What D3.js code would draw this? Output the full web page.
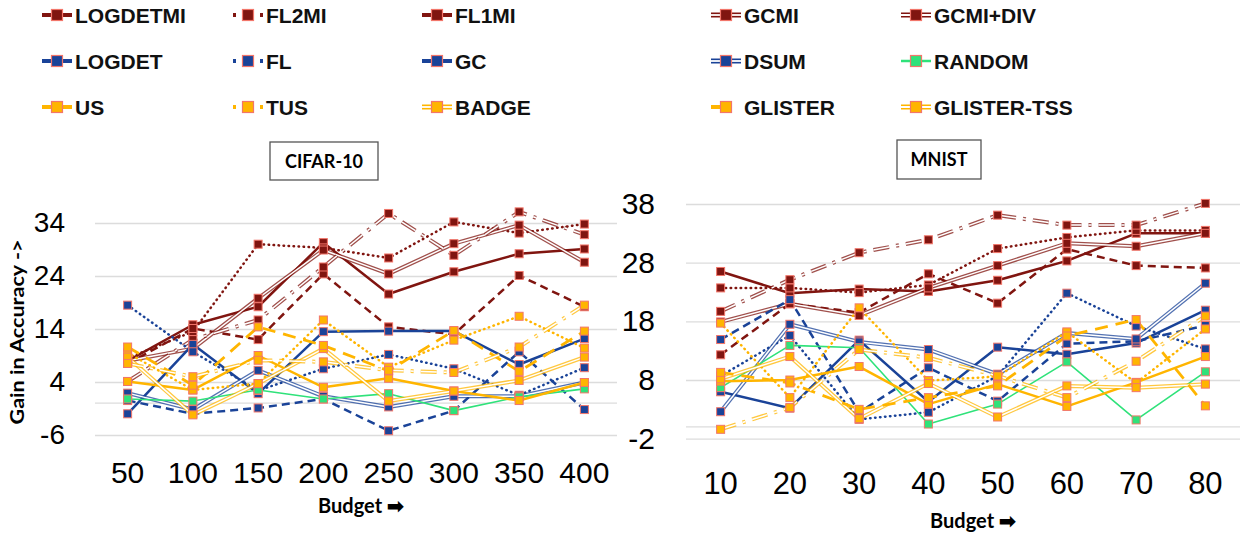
<html>
<head>
<meta charset="utf-8">
<script src="https://d3js.org/d3.v7.min.js"></script>
<style>
body { margin: 0; background: #fff; }
</style>
</head>
<body>
<svg id="page"></svg>
<script>

// data
var seriesNames = ["LOGDETMI", "FL2MI", "FL1MI", "GCMI", "GCMI+DIV",
                   "LOGDET", "FL", "GC", "DSUM", "RANDOM",
                   "US", "TUS", "BADGE", "GLISTER", "GLISTER-TSS"];

var cifarBudgets = ["50", "100", "150", "200", "250", "300", "350", "400"];
var mnistBudgets = ["10", "20", "30", "40", "50", "60", "70", "80"];
var cifarTicks = [-6, 4, 14, 24, 34];
var mnistTicks = [-2, 8, 18, 28, 38];

// one row per series, same order as seriesNames
var cifarValues = [
	[8, 14.8, 18.2, 30.3, 20.6, 24.8, 28.2, 29.1],
	[8.5, 13.5, 30, 29.3, 27.4, 34.2, 32.1, 33.8],
	[7.5, 14.1, 12.0, 24.4, 14.4, 13.0, 24.1, 18.2],
	[8, 10.3, 19.8, 28.9, 24.4, 30.1, 33.6, 26.6],
	[4.1, 12, 15.7, 25.7, 35.8, 27.9, 36.1, 31.8],
	[-2, 11.1, 1.8, 13.5, 13.6, 13.6, 7.3, 12.2],
	[18.5, 9.7, 2.4, 6.5, 9.2, 6.5, 1.5, 6.7],
	[0.5, -2.0, -0.9, 0.8, -5.2, -1.4, 9.7, -1.2],
	[1.9, -1.2, 6.2, 1.3, -0.7, 1.3, 1.3, 3.9],
	[0.8, 0.4, 2.5, 0.8, 1.8, -1.4, 1.2, 2.7],
	[4.1, 2.5, 9.0, 3.0, 4.7, 2.3, 0.5, 3.9],
	[9.5, 2.5, 3.7, 15.7, 6.8, 11.9, 16.4, 10.4],
	[8.7, -2.2, 3.7, 10.3, 0.4, 2.3, 4.3, 8.7],
	[10.6, 3.4, 14.4, 10.9, 6.1, 13.7, 6.0, 13.6],
	[7.5, 5, 8.1, 7.8, 6.2, 5.8, 10.6, 18.5]
];

var mnistValues = [
	[26.5, 22.8, 23.5, 23.1, 25.0, 28.3, 33.0, 33.0],
	[23.7, 23.7, 22.9, 24.2, 30.4, 32.3, 33.5, 33.5],
	[12.3, 21.0, 19.5, 26.1, 21.1, 30.3, 27.5, 27.1],
	[17.9, 21.0, 19.0, 23.7, 27.5, 31.3, 30.8, 33.0],
	[19.7, 25.1, 29.7, 31.9, 36.1, 34.4, 34.4, 38.1],
	[6.0, 3.2, 14.8, 4.3, 13.6, 12.4, 14.3, 19.9],
	[8.7, 15.6, 1.3, 2.5, 8.7, 22.8, 17.2, 13.3],
	[14.9, 21.7, 2.5, 10.1, 4.4, 14.2, 14.6, 17.3],
	[2.6, 17.5, 14.5, 13.2, 9.0, 16.0, 15.0, 24.5],
	[6.7, 13.9, 13.5, 0.5, 3.9, 11.1, 1.2, 9.4],
	[7.8, 8.0, 10.3, 3.9, 7.3, 3.5, 7.6, 12.0],
	[17.7, 5.0, 20.3, 7.9, 8.6, 16.2, 7.5, 16.7],
	[8.2, 12.0, 1.4, 7.4, 1.7, 7.0, 6.7, 7.3],
	[9.3, 7.5, 3.0, 5.0, 7.0, 15.5, 18.3, 3.6],
	[-0.4, 3.3, 13.2, 11.8, 8.7, 5.0, 11.2, 18.9]
];

// line styles
var red = "#801510", blue = "#1a4398", gold = "#ffb500", green = "#2fe27a";
var markerEdge = "#f2766a";
var styles = {
	"LOGDETMI":    {color: red,   dash: null,        width: 2.5, dbl: false},
	"FL2MI":       {color: red,   dash: "dot",       width: 2.5, dbl: false},
	"FL1MI":       {color: red,   dash: "8,5",       width: 2.5, dbl: false},
	"GCMI":        {color: red,   dash: null,        width: 4,   dbl: true},
	"GCMI+DIV":    {color: red,   dash: "16,7,3,7",  width: 4,   dbl: true},
	"LOGDET":      {color: blue,  dash: null,        width: 2.5, dbl: false},
	"FL":          {color: blue,  dash: "dot",       width: 2.5, dbl: false},
	"GC":          {color: blue,  dash: "8,5",       width: 2.5, dbl: false},
	"DSUM":        {color: blue,  dash: null,        width: 4,   dbl: true},
	"RANDOM":      {color: green, dash: null,        width: 1.6, dbl: false},
	"US":          {color: gold,  dash: null,        width: 2.5, dbl: false},
	"TUS":         {color: gold,  dash: "dot",       width: 2.5, dbl: false},
	"BADGE":       {color: gold,  dash: null,        width: 4,   dbl: true},
	"GLISTER":     {color: gold,  dash: "13,8",      width: 2.8, dbl: false},
	"GLISTER-TSS": {color: gold,  dash: "16,7,3,7",  width: 4,   dbl: true}
};

var svg = d3.select("#page").attr("width", 1240).attr("height", 533);

// legend
var legendCols = [57, 248, 437, 726, 916];
var legendRows = [15, 61, 107];
seriesNames.forEach(function(name, i) {
	var cx = legendCols[i % 5], cy = legendRows[Math.floor(i / 5)];
	var st = styles[name];
	var g = svg.append("g");
	var w = st.dbl ? 5 : (name == "RANDOM" ? 2.5 : 4);
	var dash = null;
	if (st.dash == "dot") dash = "3,6";
	else if (name == "GLISTER") dash = "11,30";
	else if (st.dash) dash = "11,3,3,3";
	var seg = g.append("line")
		.attr("x1", cx - 15).attr("x2", cx + 15).attr("y1", cy).attr("y2", cy)
		.attr("stroke", st.color).attr("stroke-width", w);
	if (dash) seg.attr("stroke-dasharray", dash);
	if (st.dbl) {
		var inner = g.append("line")
			.attr("x1", cx - 15).attr("x2", cx + 15).attr("y1", cy).attr("y2", cy)
			.attr("stroke", "white").attr("stroke-width", 1.8);
		if (dash) inner.attr("stroke-dasharray", dash);
	}
	g.append("rect")
		.attr("x", cx - 5.5).attr("y", cy - 5.5).attr("width", 11).attr("height", 11)
		.attr("fill", st.color).attr("stroke", markerEdge).attr("stroke-width", 1.2);
	g.append("text")
		.attr("x", cx + 18).attr("y", cy + 7.5)
		.style("font-family", "Liberation Sans, Arial, sans-serif")
		.style("font-size", "21px").style("font-weight", 700)
		.attr("fill", "#111")
		.text(name);
});

function drawChart(values, budgets, ticks, opt) {
	var x = d3.scaleBand().domain(budgets).range([opt.left, opt.right]);
	var y = d3.scaleLinear().domain(opt.domain).range(opt.range);
	var g = svg.append("g");

	// grid + tick labels
	var ax = g.append("g")
		.attr("transform", "translate(" + opt.left + ",0)")
		.call(d3.axisLeft(y).tickValues(ticks).tickSize(-(opt.right - opt.left)).tickPadding(opt.pad)
			.tickFormat(function(d) { return String(d); }));
	ax.select(".domain").remove();
	ax.selectAll("line").attr("stroke", "#dcdcdc").attr("stroke-width", 1.3);
	ax.selectAll("text")
		.style("font-family", "Liberation Sans, Arial, sans-serif")
		.style("font-size", opt.yFont + "px").attr("fill", "#000");
	g.append("line")
		.attr("x1", opt.left).attr("x2", opt.right).attr("y1", y(0)).attr("y2", y(0))
		.attr("stroke", "#dcdcdc").attr("stroke-width", 1.3);

	// category labels
	g.selectAll(".xl").data(budgets).enter().append("text")
		.attr("x", function(d) { return x(d) + x.bandwidth() / 2; })
		.attr("y", opt.xLabelY)
		.style("text-anchor", "middle")
		.style("font-family", "Liberation Sans, Arial, sans-serif")
		.style("font-size", opt.xFont + "px")
		.attr("fill", "#000")
		.text(function(d) { return d; });

	var line = d3.line()
		.x(function(d, i) { return x(budgets[i]) + x.bandwidth() / 2; })
		.y(function(d) { return y(d); });

	seriesNames.forEach(function(name, k) {
		var st = styles[name];
		var p = g.append("path").datum(values[k])
			.attr("d", line).attr("fill", "none")
			.attr("stroke", st.color).attr("stroke-width", st.width)
			.attr("stroke-opacity", st.dbl ? 0.75 : 1)
			.attr("stroke-linejoin", "round");
		if (st.dash == "dot") p.attr("stroke-linecap", "round").attr("stroke-dasharray", "0.5,4.5");
		else if (st.dash) p.attr("stroke-dasharray", st.dash);
		if (st.dbl) {
			var q = g.append("path").datum(values[k])
				.attr("d", line).attr("fill", "none")
				.attr("stroke", "white").attr("stroke-width", 1.5)
				.attr("stroke-linejoin", "round");
			if (st.dash) q.attr("stroke-dasharray", st.dash);
		}
	});
	seriesNames.forEach(function(name, k) {
		var st = styles[name];
		g.selectAll(".m" + k).data(values[k]).enter().append("rect")
			.attr("x", function(d, i) { return x(budgets[i]) + x.bandwidth() / 2 - 4; })
			.attr("y", function(d) { return y(d) - 4; })
			.attr("width", 8).attr("height", 8)
			.attr("fill", st.color).attr("stroke", markerEdge).attr("stroke-width", 1);
	});

	// title box
	g.append("rect")
		.attr("x", opt.box[0]).attr("y", opt.box[1]).attr("width", opt.box[2]).attr("height", opt.box[3])
		.attr("fill", "white").attr("stroke", "#555").attr("stroke-width", 1.3);
	g.append("text")
		.attr("x", opt.box[0] + opt.box[2] / 2).attr("y", opt.box[1] + opt.box[3] / 2 + 6.5)
		.style("text-anchor", "middle")
		.style("font-family", "Lato, Open Sans, sans-serif")
		.style("font-size", "18px").style("font-weight", 700)
		.attr("fill", "#000")
		.text(opt.title);

	g.append("text")
		.attr("x", opt.budgetX).attr("y", opt.budgetY)
		.style("text-anchor", "middle")
		.style("font-family", "Lato, Open Sans, sans-serif")
		.style("font-size", "20px").style("font-weight", 700)
		.attr("fill", "#000")
		.text("Budget \u27A1");
}

drawChart(cifarValues, cifarBudgets, cifarTicks, {
	left: 95, right: 617, domain: [-6, 34], range: [435, 223], pad: 30, yFont: 28,
	xLabelY: 483, xFont: 30, box: [270, 142, 108, 38], title: "CIFAR-10",
	budgetX: 361, budgetY: 513
});
drawChart(mnistValues, mnistBudgets, mnistTicks, {
	left: 686, right: 1240, domain: [-2, 38], range: [438.7, 204], pad: 31, yFont: 30,
	xLabelY: 494, xFont: 31, box: [897, 140, 84, 39], title: "MNIST",
	budgetX: 973, budgetY: 528
});

// y axis title
svg.append("text")
	.attr("transform", "translate(24,332) rotate(-90)")
	.style("text-anchor", "middle")
	.style("font-family", "Lato, Open Sans, sans-serif")
	.style("font-size", "18px").style("font-weight", 700)
	.attr("textLength", 185).attr("lengthAdjust", "spacingAndGlyphs")
	.attr("fill", "#000")
	.text("Gain in Accuracy ->");

</script>
</body>
</html>
